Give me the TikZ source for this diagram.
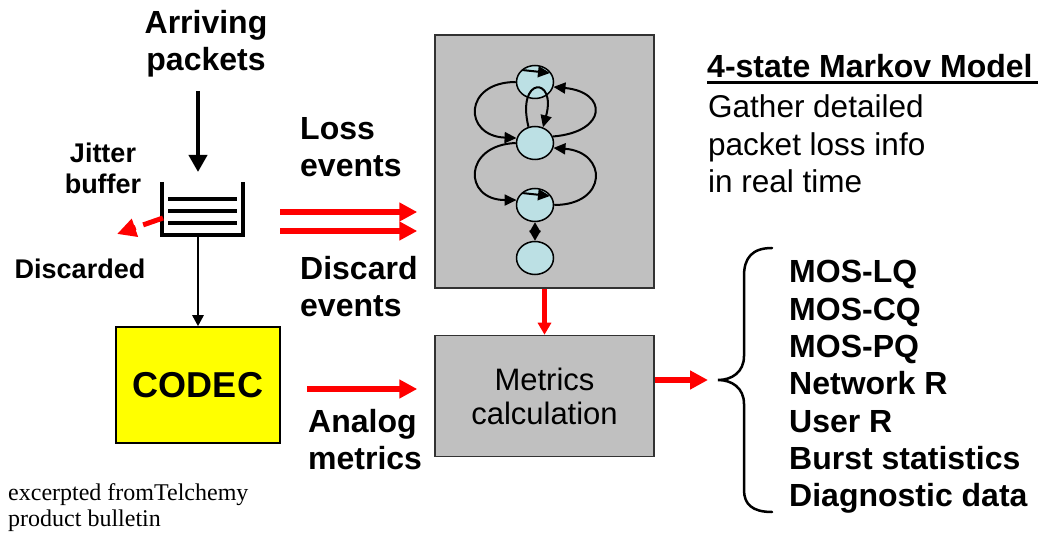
\documentclass[tikz,border=0pt]{standalone}
\usepackage{fontspec}
\setmainfont{Liberation Sans}
\newfontfamily\seriffont{Liberation Serif}
\usetikzlibrary{arrows.meta,shapes.geometric}
\definecolor{statefill}{RGB}{188,224,228}
\definecolor{boxgray}{RGB}{192,192,192}
\definecolor{boxedge}{RGB}{50,50,50}
\definecolor{codecyellow}{RGB}{255,255,0}
\definecolor{arrowred}{RGB}{255,0,0}
\begin{document}
\begin{tikzpicture}[x=1pt,y=-1pt,
  lbl/.style={inner sep=0pt, font=\fontsize{32}{37}\selectfont\bfseries},
  smalllbl/.style={inner sep=0pt, font=\fontsize{27}{31}\selectfont\bfseries},
  plainlbl/.style={inner sep=0pt, font=\fontsize{31.5}{37.5}\selectfont},
  graybox/.style={draw=boxedge, line width=1.5pt, fill=boxgray, inner sep=0pt},
  codecbox/.style={draw=black, line width=1.5pt, fill=codecyellow, inner sep=0pt},
  state/.style={ellipse, draw=black, line width=1.5pt, fill=statefill, minimum width=37pt, minimum height=33pt, inner sep=0pt},
  trans/.style={draw=black, line width=2pt, -{Triangle[length=12pt,width=11pt]}},
  redarrow/.style={draw=arrowred, line width=6pt, -{Triangle[length=18pt,width=18pt]}},
  redsmall/.style={draw=arrowred, line width=4.5pt, -{Triangle[length=12pt,width=13pt]}},
  reddash/.style={draw=arrowred, line width=5pt, dash pattern=on 21pt off 8pt, -{Triangle[length=19pt,width=18pt]}},
  blackarrow/.style={draw=black, line width=4pt, -{Triangle[length=17pt,width=18pt]}},
  thinarrow/.style={draw=black, line width=2.5pt, -{Triangle[length=11pt,width=11pt]}},
  bucket/.style={draw=black, line width=3.5pt},
  bucketline/.style={draw=black, line width=4pt},
  bracestyle/.style={draw=black, line width=2.5pt, line cap=round},
]
\useasboundingbox (0,0) rectangle (1038,534);
\clip (0,0) rectangle (1038,534);

% ---- texts ----
\node[lbl, align=center] (arriving) at (206,44) {Arriving\\packets};
\node[smalllbl, align=center] (jitter) at (103,168) {Jitter\\buffer};
\node[smalllbl] (discarded) at (80,269) {Discarded};
\node[lbl, align=left, anchor=west] (loss) at (300,147.5) {Loss\\events};
\node[lbl, align=left, anchor=west] (discard) at (300,286.5) {Discard\\events};
\node[lbl, align=left, anchor=west] (analog) at (308,440) {Analog\\metrics};
\node[lbl, anchor=base west, font=\fontsize{32}{37}\selectfont\bfseries] (title) at (707,78) {4-state Markov Model};
\node[plainlbl, align=left, anchor=west] (gather) at (708,144) {Gather detailed\\packet loss info\\in real time};
\node[lbl, align=left, anchor=west, font=\fontsize{32}{37.3}\selectfont\bfseries] (list) at (789,387)
  {MOS-LQ\\MOS-CQ\\MOS-PQ\\Network R\\User R\\Burst statistics\\Diagnostic data};
\node[inner sep=0pt, align=left, anchor=west, font=\fontsize{24}{26}\selectfont\seriffont] (note) at (8,508)
  {excerpted fromTelchemy\\product bulletin};
\draw[line width=3pt] (title.base west) ++(0,5) coordinate (ul1) -- (ul1 -| 1040,0) coordinate (ul2);

% ---- boxes ----
\node[graybox, minimum width=219pt, minimum height=253pt] (markov) at (544.5,161.5) {};
\node[graybox, minimum width=219pt, minimum height=121pt, align=center,
      font=\fontsize{31}{34}\selectfont] (metrics) at (544.5,396) {Metrics\\calculation};
\node[codecbox, minimum width=164pt, minimum height=116pt, font=\fontsize{36}{40}\selectfont\bfseries] (codec) at (198,385) {CODEC};

% ---- jitter buffer ----
\node[inner sep=0pt, minimum width=81pt, minimum height=53pt] (buf) at (202.5,208.5) {};
\draw[bucket] (buf.north west) -- (buf.south west) -- (buf.south east) -- (buf.north east);
\coordinate (bl1a) at (168,199); \coordinate (bl1b) at (237,199);
\coordinate (bl2a) at (168,211); \coordinate (bl2b) at (237,211);
\coordinate (bl3a) at (168,223); \coordinate (bl3b) at (237,223);
\draw[bucketline] (bl1a) -- (bl1b);
\draw[bucketline] (bl2a) -- (bl2b);
\draw[bucketline] (bl3a) -- (bl3b);

% ---- black arrows ----
\coordinate (inA) at (198,91);
\coordinate (inB) at (198,172);
\draw[blackarrow] (inA) -- (inB);
\draw[thinarrow] (buf.south -| codec.north) -- (codec.north);

% ---- red dashed discard arrow ----
\coordinate (dA) at (163,218);
\coordinate (dB) at (117,234);
\draw[reddash] (dA) -- (dB);

% ---- red arrows ----
\coordinate (l1) at (280,212);
\coordinate (l2) at (280,231);
\draw[redarrow, shorten >=17pt] (l1) -- (markov.west |- l1);
\draw[redarrow, shorten >=17pt] (l2) -- (markov.west |- l2);
\coordinate (an) at (307,389);
\draw[redarrow, shorten >=17pt] (an) -- (metrics.west |- an);
\draw[redsmall] (markov.south) -- (metrics.north);
\coordinate (btip) at (718,380);
\draw[redarrow, shorten >=10pt] (metrics.east |- btip) -- (btip);

% ---- brace ----
\coordinate (bt) at (772,248);
\coordinate (bb) at (772,512);
\draw[bracestyle] (bt) .. controls (752,248) and (744,258) .. (744,276) -- (744,356)
  .. controls (744,372) and (732,380) .. (btip)
  .. controls (732,380) and (744,388) .. (744,404) -- (744,490)
  .. controls (744,504) and (752,512) .. (bb);

% ---- Markov states ----
\node[state] (s1) at (535,82) {};
\node[state] (s2) at (535,143) {};
\node[state] (s3) at (535,205) {};
\node[state] (s4) at (535,258) {};
\draw[trans] (s1.west) .. controls (463,82) and (463,136) .. (s2.165);
\draw[trans] (s2.20) .. controls (608,132) and (608,92) .. (s1.-15);
\draw[trans] (s2.112) .. controls (516,76) and (557,76) .. (s2.63);
\draw[trans] (s2.west) .. controls (463,145) and (463,200) .. (s3.165);
\draw[trans] (s3.east) .. controls (608,205) and (608,152) .. (s2.-15);
\draw[draw=black, line width=2pt, {Triangle[length=10pt,width=11pt]}-{Triangle[length=10pt,width=11pt]}] (s3.south) -- (s4.north);
\coordinate (m1a) at (522,70); \coordinate (m1b) at (550,73);
\coordinate (m3a) at (522,193); \coordinate (m3b) at (550,196);
\draw[trans] (m1a) -- (m1b);
\draw[trans] (m3a) -- (m3b);
\end{tikzpicture}
\end{document}
